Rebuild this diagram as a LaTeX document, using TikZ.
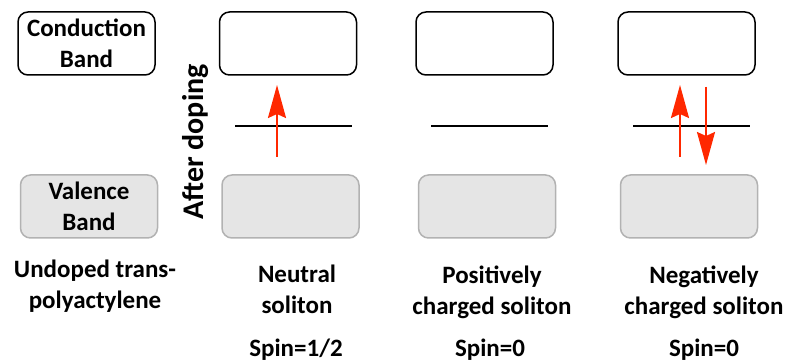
\documentclass[tikz,border=0pt]{standalone}
\usepackage{fontspec}
\setmainfont{Carlito}
\usetikzlibrary{arrows.meta}
\definecolor{arrowred}{RGB}{255,40,0}
\definecolor{vfill}{RGB}{229,229,229}
\definecolor{vdraw}{RGB}{178,178,178}

\begin{document}
\begin{tikzpicture}[x=1pt,y=-1pt,>={Stealth[length=33pt,width=18pt,inset=4pt]},
  band/.style={rounded corners=10pt,line width=1.5pt,minimum width=137pt,minimum height=63pt,inner sep=0pt,
    font=\bfseries\fontsize{25}{31}\selectfont,align=center},
  cband/.style={band,draw=black,fill=white},
  vband/.style={band,draw=vdraw,fill=vfill},
  level/.style={line width=2pt},
  spinarrow/.style={->,line width=2pt,draw=arrowred,fill=arrowred},
  lbl/.style={font=\bfseries\fontsize{25}{31}\selectfont,align=center,inner sep=0pt,anchor=base}]
  \useasboundingbox (0,0) rectangle (788,363);
  % bands
  \node[cband] (CB0) at (86.5,43.5)  {Conduction\\Band};
  \node[cband] (CB1) at (288,43.5)   {};
  \node[cband] (CB2) at (484.5,43.5) {};
  \node[cband] (CB3) at (686.5,43.5) {};
  \node[vband] (VB0) at (89,206.5)   {Valence\\Band};
  \node[vband] (VB1) at (290.5,206.5) {};
  \node[vband] (VB2) at (487,206.5)  {};
  \node[vband] (VB3) at (689,206.5)  {};
  \node[lbl,rotate=90,font=\bfseries\fontsize{30}{36}\selectfont] (dop) at (203,142) {After doping};
  % soliton levels
  \coordinate (L1a) at (235,126); \coordinate (L1b) at (352,126);
  \coordinate (L2a) at (431,126); \coordinate (L2b) at (548,126);
  \coordinate (L3a) at (633,126); \coordinate (L3b) at (750,126);
  \draw[level] (L1a) -- (L1b);
  \draw[level] (L2a) -- (L2b);
  \draw[level] (L3a) -- (L3b);
  % electrons
  \coordinate (E1s) at (277,157); \coordinate (E1t) at (277,85);
  \coordinate (E3s) at (680,157); \coordinate (E3t) at (680,85);
  \coordinate (E4s) at (706,87);  \coordinate (E4t) at (706,165);
  \draw[spinarrow] (E1s) -- (E1t);
  \draw[spinarrow] (E3s) -- (E3t);
  \draw[spinarrow] (E4s) -- (E4t);
  % captions
  \node[lbl] (cap0) at (95,309)  {Undoped trans-\\polyactylene};
  \node[lbl] (cap1) at (297,314) {Neutral\\soliton};
  \node[lbl] (cap2) at (492,315) {Positively\\charged soliton};
  \node[lbl] (cap3) at (704,315) {Negatively\\charged soliton};
  \node[lbl] (spin1) at (296,357) {Spin=1/2};
  \node[lbl] (spin2) at (490,357) {Spin=0};
  \node[lbl] (spin3) at (704,357) {Spin=0};
\end{tikzpicture}
\end{document}
